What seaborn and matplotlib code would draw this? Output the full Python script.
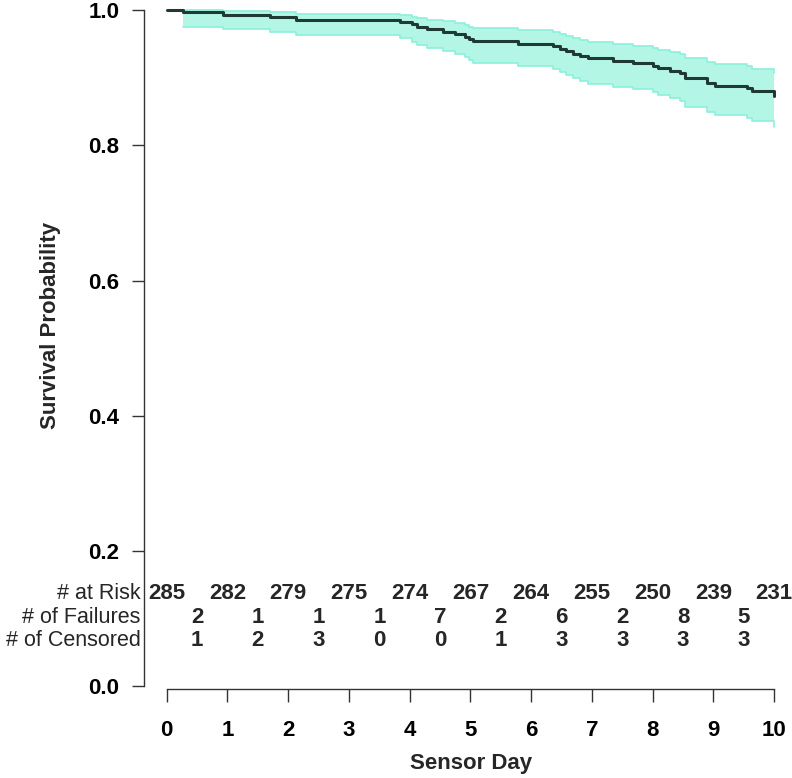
import matplotlib
matplotlib.use("Agg")
import matplotlib.pyplot as plt
import seaborn as sns
import numpy as np

# ---- data ----
times = [0.0, 0.26, 0.92, 1.70, 2.12, 3.84, 4.03, 4.12, 4.28, 4.55, 4.75, 4.91, 4.98,
         5.05, 5.79, 6.36, 6.47, 6.58, 6.69, 6.80, 6.94, 7.35, 7.68, 8.00, 8.09, 8.29,
         8.45, 8.53, 8.89, 9.03, 9.55, 9.63, 9.99, 10.0]
surv = [1.0, 0.9965, 0.9930, 0.9894, 0.9859, 0.9823, 0.9787, 0.9751, 0.9716, 0.9680,
        0.9644, 0.9608, 0.9572, 0.9536, 0.9500, 0.9464, 0.9428, 0.9392, 0.9356, 0.9320,
        0.9284, 0.9248, 0.9211, 0.9174, 0.9138, 0.9101, 0.9064, 0.8990, 0.8916, 0.8879,
        0.8842, 0.8804, 0.8729, 0.8729]
lower = [1.0, 0.9754, 0.9722, 0.9676, 0.9628, 0.9580, 0.9533, 0.9486, 0.9439, 0.9393,
         0.9348, 0.9303, 0.9259, 0.9215, 0.9170, 0.9127, 0.9084, 0.9040, 0.8998, 0.8955,
         0.8913, 0.8869, 0.8827, 0.8784, 0.8741, 0.8698, 0.8655, 0.8570, 0.8487, 0.8444,
         0.8401, 0.8359, 0.8275, 0.8275]
upper = [1.0, 0.9995, 0.9982, 0.9966, 0.9947, 0.9926, 0.9904, 0.9881, 0.9857, 0.9832,
         0.9807, 0.9781, 0.9755, 0.9728, 0.9701, 0.9674, 0.9646, 0.9618, 0.9589, 0.9561,
         0.9532, 0.9503, 0.9474, 0.9444, 0.9413, 0.9383, 0.9353, 0.9292, 0.9230, 0.9198,
         0.9167, 0.9135, 0.9070, 0.9070]

days = list(range(11))
at_risk = [285, 282, 279, 275, 274, 267, 264, 255, 250, 239, 231]
half_days = [0.5, 1.5, 2.5, 3.5, 4.5, 5.5, 6.5, 7.5, 8.5, 9.5]
failures = [2, 1, 1, 1, 7, 2, 6, 2, 8, 5]
censored = [1, 2, 3, 0, 0, 1, 3, 3, 3, 3]
row_labels = ["# at Risk", "# of Failures", "# of Censored"]
yticks = [0.0, 0.2, 0.4, 0.6, 0.8, 1.0]

# ---- style ----
sns.set_style("ticks")
plt.rcParams["font.family"] = ["Liberation Sans", "DejaVu Sans"]

W, H = 792, 778
fig = plt.figure(figsize=(W / 100, H / 100), dpi=100)
ax = fig.add_axes([144 / W, (H - 689) / H, (W - 144) / W, 689 / H])

# confidence band
band_t = np.array(times[1:])
ax.fill_between(band_t, lower[1:], upper[1:], step="post", color="#b3f6e6", lw=0, zorder=1)
ax.step(band_t, lower[1:], where="post", color="#8cf0da", lw=1.2, zorder=2)
ax.step(band_t, upper[1:], where="post", color="#8cf0da", lw=1.2, zorder=2)

# survival curve
sns.lineplot(x=times, y=surv, drawstyle="steps-post", color="#1f3a33", lw=2.2,
             estimator=None, sort=False, ax=ax, zorder=3)

ax.set_xlim(-0.374, 10.293)
ax.set_ylim(-0.0037, 1.0148)

for s in ["top", "right"]:
    ax.spines[s].set_visible(False)
ax.spines["left"].set_bounds(0, 1)
ax.spines["bottom"].set_bounds(0, 10)
for s in ["left", "bottom"]:
    ax.spines[s].set_color("#333333")
    ax.spines[s].set_linewidth(1.0)

ax.set_xticks(days)
ax.set_xticklabels([str(d) for d in days], fontweight="bold", fontsize=16)
ax.set_yticks(yticks)
ax.set_yticklabels([f"{v:.1f}" for v in yticks], fontweight="bold", fontsize=16)
ax.tick_params(axis="x", bottom=True, direction="out", length=9.4, width=1.0, pad=13,
               colors="#333333", labelcolor="black")
ax.tick_params(axis="y", left=True, direction="out", length=8.6, width=1.0, pad=9,
               colors="#333333", labelcolor="black")

ax.set_xlabel("")
ax.set_ylabel("")
fig.text(471 / W, 1 - 763 / H, "Sensor Day", ha="center", va="center",
         fontweight="bold", fontsize=16)
fig.text(51 / W, 1 - 325 / H, "Survival Probability", ha="center", va="center",
         rotation=90, fontweight="bold", fontsize=16)

# risk table
row_y = [0.138, 0.1027, 0.0673]
for lab, yy in zip(row_labels, row_y):
    ax.text(-0.43, yy, lab, ha="right", va="center", fontsize=15.5, clip_on=False)
for d, n in zip(days, at_risk):
    ax.text(d, row_y[0], str(n), ha="center", va="center", fontsize=16,
            fontweight="bold", clip_on=False)
for d, n in zip(half_days, failures):
    ax.text(d, row_y[1], str(n), ha="center", va="center", fontsize=16,
            fontweight="bold", clip_on=False)
for d, n in zip(half_days, censored):
    ax.text(d, row_y[2], str(n), ha="center", va="center", fontsize=16,
            fontweight="bold", clip_on=False)

fig.savefig("out.png", dpi=100)
